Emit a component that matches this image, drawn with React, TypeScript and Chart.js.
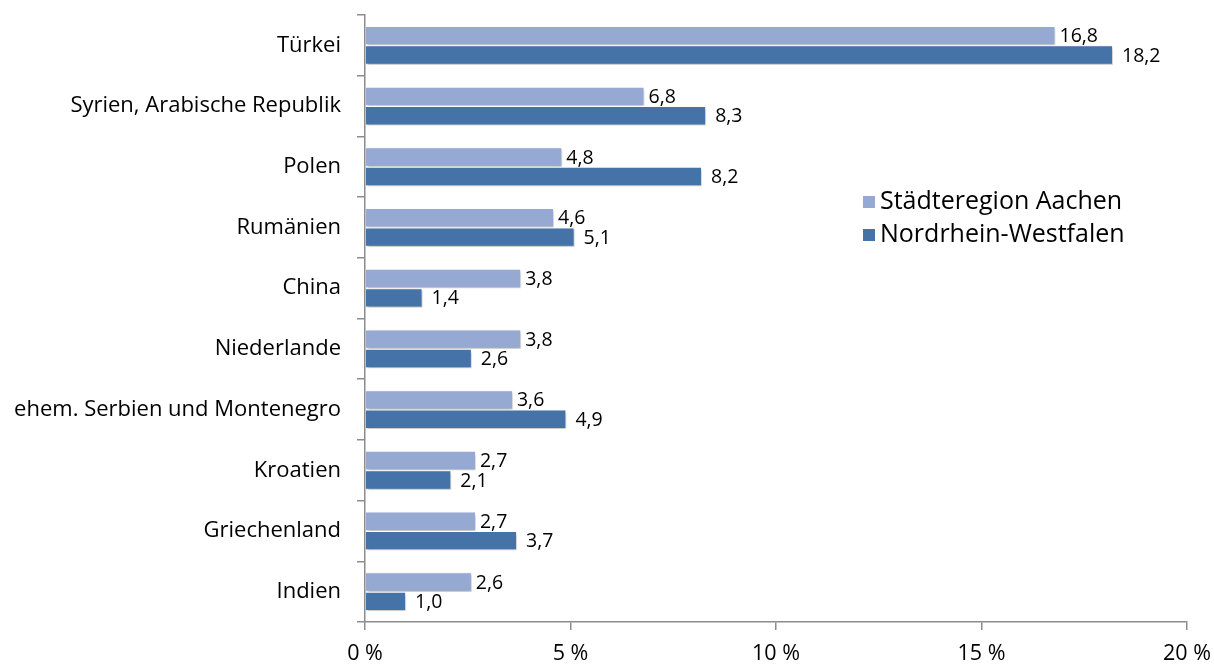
import React, { useEffect, useRef } from "react";
import { Chart, registerables } from "chart.js";

Chart.register(...registerables);

const categories = [
  "Türkei",
  "Syrien, Arabische Republik",
  "Polen",
  "Rumänien",
  "China",
  "Niederlande",
  "ehem. Serbien und Montenegro",
  "Kroatien",
  "Griechenland",
  "Indien",
];
const seriesNames = ["Städteregion Aachen", "Nordrhein-Westfalen"];
const aachen = [16.8, 6.8, 4.8, 4.6, 3.8, 3.8, 3.6, 2.7, 2.7, 2.6];
const nrw = [18.2, 8.3, 8.2, 5.1, 1.4, 2.6, 4.9, 2.1, 3.7, 1.0];
const xTicks = [0, 5, 10, 15, 20];

const LIGHT = "#95A9D2";
const DARK = "#4572A7";
const AXIS = "#8C8C8C";
const FONT = "'Open Sans', sans-serif";

const fmt = (v: number) => v.toFixed(1).replace(".", ",");

const shadowPlugin = {
  id: "barShadow",
  beforeDatasetsDraw(chart: any) {
    const ctx = chart.ctx;
    ctx.save();
    ctx.shadowColor = "rgba(0,0,0,0.3)";
    ctx.shadowBlur = 3;
    ctx.shadowOffsetX = 1;
    ctx.shadowOffsetY = 2;
  },
  afterDatasetsDraw(chart: any) {
    chart.ctx.restore();
  },
};

const labelPlugin = {
  id: "valueLabels",
  afterDatasetsDraw(chart: any) {
    const ctx = chart.ctx;
    ctx.save();
    ctx.font = `19.5px ${FONT}`;
    ctx.fillStyle = "#000";
    ctx.textBaseline = "middle";
    ctx.textAlign = "left";
    chart.data.datasets.forEach((ds: any, di: number) => {
      const meta = chart.getDatasetMeta(di);
      meta.data.forEach((bar: any, i: number) => {
        const v = ds.data[i];
        ctx.fillText(fmt(v), bar.x + (di === 0 ? 4 : 9), bar.y + 1);
      });
    });
    ctx.restore();
  },
};

const legendPlugin = {
  id: "innerLegend",
  afterDraw(chart: any) {
    const ctx = chart.ctx;
    ctx.save();
    ctx.font = `25px ${FONT}`;
    ctx.textBaseline = "middle";
    ctx.textAlign = "left";
    const x = 863;
    const ys = [202, 235];
    chart.data.datasets.forEach((ds: any, i: number) => {
      ctx.fillStyle = ds.backgroundColor;
      ctx.fillRect(x, ys[i] - 6, 12, 12);
      ctx.fillStyle = "#000";
      ctx.fillText(ds.label, x + 17, ys[i]);
    });
    ctx.restore();
  },
};

export default function App() {
  const ref = useRef<HTMLCanvasElement | null>(null);

  useEffect(() => {
    document.body.style.margin = "0";
    if (!ref.current) return;
    const chart = new Chart(ref.current, {
      type: "bar",
      data: {
        labels: categories,
        datasets: [
          {
            label: seriesNames[0],
            data: aachen,
            backgroundColor: LIGHT,
            borderColor: "#FFFFFF",
            borderWidth: 1,
            borderSkipped: "start",
            categoryPercentage: 0.64,
            barPercentage: 1,
          },
          {
            label: seriesNames[1],
            data: nrw,
            backgroundColor: DARK,
            borderColor: "#FFFFFF",
            borderWidth: 1,
            borderSkipped: "start",
            categoryPercentage: 0.64,
            barPercentage: 1,
          },
        ],
      },
      options: {
        indexAxis: "y",
        animation: false,
        responsive: false,
        maintainAspectRatio: false,
        layout: { padding: { top: 15, right: 27, left: 0, bottom: 0 } },
        plugins: {
          legend: { display: false },
          tooltip: { enabled: false },
        },
        scales: {
          x: {
            type: "linear",
            min: 0,
            max: 20,
            afterBuildTicks: (s: any) => {
              s.ticks = xTicks.map((v) => ({ value: v }));
            },
            afterFit: (s: any) => {
              s.height = 44;
              s.paddingLeft = 0;
              s.paddingRight = 0;
            },
            ticks: {
              callback: (v: any) => `${v} %`,
              font: { family: FONT, size: 21.5 },
              color: "#000",
              padding: 11,
              maxRotation: 0,
            },
            grid: {
              drawOnChartArea: false,
              drawTicks: true,
              tickLength: 8,
              color: AXIS,
              lineWidth: 1.5,
            },
            border: { display: true, color: AXIS, width: 1.5 },
          },
          y: {
            type: "category",
            afterFit: (s: any) => {
              s.width = 365;
              s.paddingTop = 0;
              s.paddingBottom = 0;
            },
            ticks: {
              font: { family: FONT, size: 22 },
              color: "#000",
              padding: 16,
            },
            grid: {
              offset: true,
              drawOnChartArea: false,
              drawTicks: true,
              tickLength: 8,
              color: AXIS,
              lineWidth: 1.5,
            },
            border: { display: true, color: AXIS, width: 1.5 },
          },
        },
      },
      plugins: [shadowPlugin, labelPlugin, legendPlugin],
    } as any);
    return () => chart.destroy();
  }, []);

  return (
    <div style={{ position: "absolute", left: 0, top: 0, width: 1214, height: 666, background: "#fff" }}>
      <canvas ref={ref} width={1214} height={666} style={{ width: 1214, height: 666, display: "block" }} />
    </div>
  );
}
